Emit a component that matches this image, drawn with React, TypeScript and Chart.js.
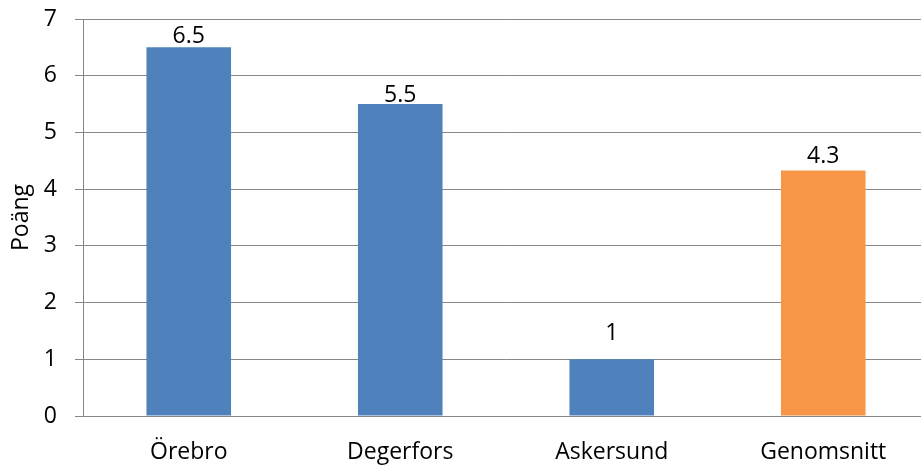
import React, { useEffect, useRef } from "react";
import { Chart, registerables } from "chart.js";

Chart.register(...registerables);

const categories = ["Örebro", "Degerfors", "Askersund", "Genomsnitt"];
const values = [6.5, 5.5, 1, 4.33];
const barColors = ["#4F81BD", "#4F81BD", "#4F81BD", "#F79646"];
const yTicks = [0, 1, 2, 3, 4, 5, 6, 7];
const yTitle = "Poäng";
// gap (px) between each bar top and its value label baseline
const labelGaps = [4, 2, 19, 7];

const FONT = "'Open Sans', sans-serif";
const FSIZE = 23;
const GRID = "#878787";

const dataLabelPlugin = {
  id: "dataLabels",
  afterDatasetsDraw(chart: any) {
    const ctx = chart.ctx;
    const meta = chart.getDatasetMeta(0);
    ctx.save();
    ctx.font = `${FSIZE}px ${FONT}`;
    ctx.fillStyle = "#000";
    ctx.textAlign = "center";
    ctx.textBaseline = "alphabetic";
    meta.data.forEach((bar: any, i: number) => {
      const v = values[i];
      const txt = String(Math.round(v * 10) / 10);
      ctx.fillText(txt, bar.x, bar.y - labelGaps[i]);
    });
    ctx.restore();
  },
};

export default function App() {
  const ref = useRef<HTMLCanvasElement | null>(null);
  useEffect(() => {
    if (!ref.current) return;
    const chart = new Chart(ref.current, {
      type: "bar",
      data: {
        labels: categories,
        datasets: [
          {
            data: values,
            backgroundColor: barColors,
            categoryPercentage: 1,
            barPercentage: 0.4,
          },
        ],
      },
      plugins: [dataLabelPlugin],
      options: {
        animation: false,
        responsive: false,
        devicePixelRatio: 1,
        layout: { padding: { top: 19, right: 0, left: 0, bottom: 0 } },
        plugins: { legend: { display: false }, tooltip: { enabled: false } },
        scales: {
          x: {
            grid: { display: false, drawTicks: false },
            border: { display: true, color: GRID, width: 1 },
            ticks: {
              color: "#000",
              font: { family: FONT, size: FSIZE },
              padding: 23,
              maxRotation: 0,
            },
            afterFit(scale: any) {
              scale.height = 53;
              scale.paddingLeft = 0;
              scale.paddingRight = 0;
            },
          },
          y: {
            min: 0,
            max: 7,
            afterBuildTicks(scale: any) {
              scale.ticks = yTicks.map((v) => ({ value: v }));
            },
            grid: { color: GRID, lineWidth: 1, tickLength: 8, drawTicks: true },
            border: { display: true, color: GRID, width: 1 },
            ticks: {
              color: "#000",
              font: { family: FONT, size: FSIZE },
              padding: 18,
            },
            title: {
              display: true,
              text: yTitle,
              color: "#000",
              font: { family: FONT, size: FSIZE },
              padding: { top: 8, bottom: 0 },
            },
            afterFit(scale: any) {
              scale.width = 83;
              scale.paddingTop = 0;
              scale.paddingBottom = 0;
            },
          },
        },
      },
    });
    return () => chart.destroy();
  }, []);
  return (
    <div
      style={{
        position: "fixed",
        left: 0,
        top: 0,
        width: 921,
        height: 469,
        overflow: "hidden",
        background: "#fff",
      }}
    >
      <canvas ref={ref} width={929} height={469} style={{ width: 929, height: 469, display: "block" }} />
    </div>
  );
}
